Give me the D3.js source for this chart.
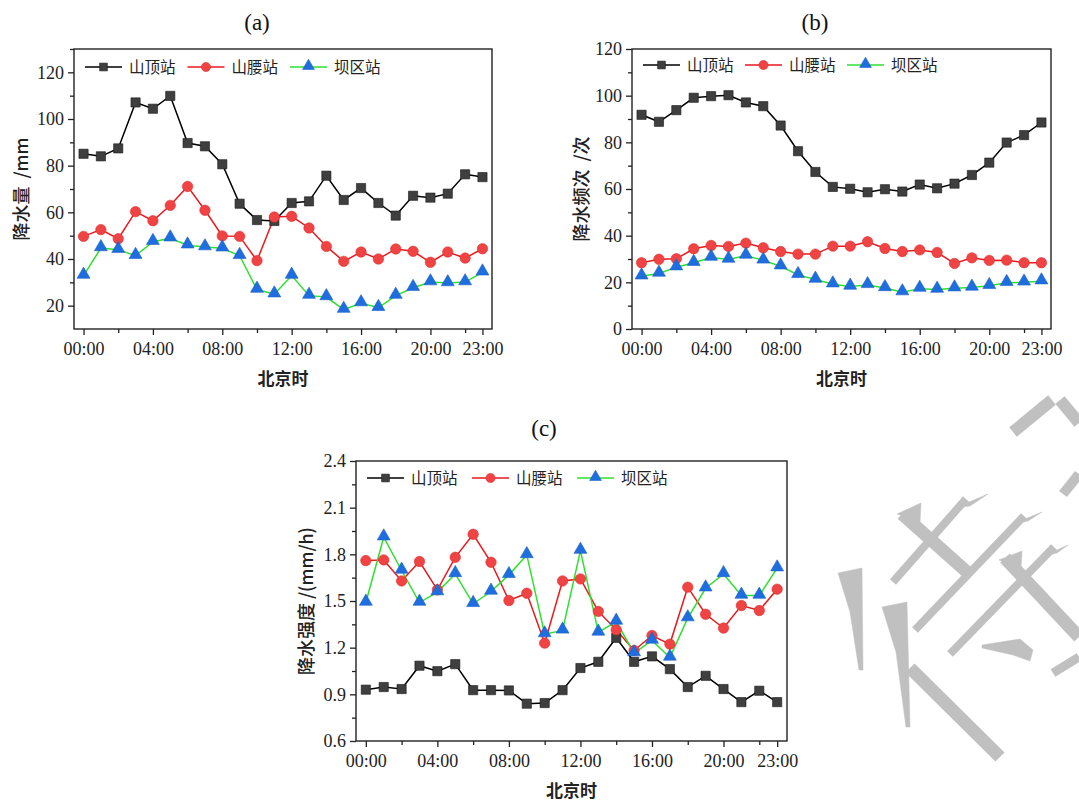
<!DOCTYPE html>
<html>
<head>
<meta charset="utf-8">
<script src="https://cdn.jsdelivr.net/npm/d3@7"></script>
<style>
  body { margin: 0; background: #fff; }
  svg { display: block; }
</style>
</head>
<body>
<svg id="svg" width="1079" height="802"></svg>
<script>
// categories
let hours = [0, 1, 2, 3, 4, 5, 6, 7, 8, 9, 10, 11, 12, 13, 14, 15, 16, 17, 18, 19, 20, 21, 22, 23];
let xMajor = [0, 4, 8, 12, 16, 20, 23];
let xMinor = [2, 6, 10, 14, 18, 22];
let stations = ["山顶站", "山腰站", "坝区站"];

// (a) 降水量 /mm
let amountTop = [85.1, 84.0, 87.4, 107.1, 104.4, 109.9, 89.7, 88.3, 80.6, 63.7, 56.7, 56.3, 64.0, 64.7, 75.7, 65.3, 70.4, 64.0, 58.6, 67.1, 66.3, 68.0, 76.3, 75.1];
let amountMid = [49.7, 52.6, 48.7, 60.3, 56.4, 63.0, 71.1, 60.9, 49.9, 49.7, 39.3, 58.0, 58.3, 53.3, 45.4, 39.0, 43.0, 40.0, 44.3, 43.3, 38.6, 43.0, 40.4, 44.4];
let amountDam = [32.9, 44.7, 44.0, 41.4, 47.4, 48.9, 45.9, 45.1, 44.6, 41.4, 26.9, 24.9, 32.9, 24.3, 23.7, 18.3, 21.1, 19.1, 24.3, 27.7, 30.1, 29.7, 30.1, 34.3];

// (b) 降水频次 /次
let freqTop = [91.8, 88.8, 93.8, 99.1, 99.8, 100.2, 97.1, 95.5, 87.2, 76.2, 67.3, 60.9, 60.1, 58.6, 59.9, 58.9, 61.9, 60.3, 62.3, 66.0, 71.3, 79.9, 83.1, 88.5];
let freqMid = [28.4, 29.9, 30.1, 34.4, 35.8, 35.4, 36.8, 34.8, 33.2, 32.1, 32.1, 35.5, 35.5, 37.4, 34.5, 33.2, 33.9, 32.8, 28.1, 30.5, 29.4, 29.5, 28.4, 28.4];
let freqDam = [22.6, 23.8, 26.5, 28.4, 30.6, 29.8, 31.5, 29.4, 26.9, 23.2, 21.2, 19.2, 18.2, 18.9, 17.6, 15.8, 17.3, 16.9, 17.5, 17.8, 18.5, 19.8, 20.0, 20.5];

// (c) 降水强度 /(mm/h)
let intenTop = [0.930, 0.947, 0.934, 1.084, 1.049, 1.094, 0.927, 0.927, 0.925, 0.840, 0.844, 0.927, 1.069, 1.109, 1.263, 1.109, 1.144, 1.062, 0.947, 1.019, 0.934, 0.850, 0.923, 0.850];
let intenMid = [1.760, 1.764, 1.629, 1.754, 1.572, 1.781, 1.929, 1.749, 1.503, 1.550, 1.229, 1.629, 1.642, 1.433, 1.315, 1.182, 1.278, 1.223, 1.589, 1.415, 1.326, 1.471, 1.439, 1.576];
let intenDam = [1.490, 1.910, 1.696, 1.490, 1.557, 1.674, 1.482, 1.561, 1.668, 1.796, 1.287, 1.311, 1.824, 1.298, 1.368, 1.165, 1.246, 1.137, 1.390, 1.582, 1.674, 1.535, 1.535, 1.711];

// y ticks
let amountTicks = [20, 40, 60, 80, 100, 120];
let freqTicks = [0, 20, 40, 60, 80, 100, 120];
let intenTicks = [0.6, 0.9, 1.2, 1.5, 1.8, 2.1, 2.4];

// styles per station
let lineColors = ["#000000", "#e8191e", "#2ee02e"];
let markColors = ["#3f3f3f", "#f04444", "#1f6ee0"];
let markStroke = ["#1a1a1a", "#e02a2a", "#1a5fc8"];
let symbols = [d3.symbolSquare, d3.symbolCircle, d3.symbolTriangle];

let serif = "'Liberation Serif', 'Times New Roman', serif";
let cjk = "'Noto Sans CJK SC', sans-serif";

let svg = d3.select("#svg");

// gray watermark glyph pieces in the lower right corner (decoration, not data)
let wmLines = [
  [1013, 432, 1052, 400, 12], [1060, 400, 1079, 423, 12], [1063, 494, 1079, 474, 10],
  [902, 514, 967, 572, 13], [966, 499, 893, 582, 8], [1024, 516, 915, 630, 8],
  [1005, 558, 1079, 637, 13], [1054, 547, 950, 654, 8], [1053, 673, 1079, 657, 9],
  [910, 668, 1000, 757, 13]
];
let wmShapes = [
  [[838, 573], [862, 568], [863, 670], [859, 670], [850, 612]],
  [[882, 607], [907, 602], [910, 727], [906, 727], [896, 652]],
  [[982, 645], [1020, 639], [1033, 650], [1030, 661], [1013, 655], [982, 648]],
  [[897, 514], [921, 503], [920, 522]],
  [[955, 508], [988, 494], [970, 506]],
  [[1013, 524], [1042, 512], [1028, 521]],
  [[999, 560], [1022, 551], [1021, 568]],
  [[1044, 556], [1068, 545], [1057, 553]]
];

let wm = svg.append("g").attr("fill", "#c0c0c0").attr("stroke", "#c0c0c0");
wmLines.forEach(function (s) {
  wm.append("line").attr("x1", s[0]).attr("y1", s[1]).attr("x2", s[2]).attr("y2", s[3])
      .attr("stroke-width", s[4]);
});
wmShapes.forEach(function (s) {
  wm.append("path").attr("d", d3.line()(s) + "Z").attr("stroke-width", 0.5);
});

function pad2(h) { return (h < 10 ? "0" : "") + h + ":00"; }

function drawPanel(p) {
  let g = svg.append("g");

  let x = d3.scaleLinear().domain([-0.55, 23.55]).range([p.left, p.right]);
  let y = d3.scaleLinear().domain(p.yDomain).range([p.bottom, p.top]);

  // minor ticks halfway between majors
  let step = p.yTicks[1] - p.yTicks[0];
  let yMinor = [];
  for (let i = 0; i < p.yTicks.length - 1; i++) yMinor.push((p.yTicks[i] + p.yTicks[i + 1]) / 2);
  if (p.yTicks[p.yTicks.length - 1] < p.yDomain[1]) yMinor.push(p.yTicks[p.yTicks.length - 1] + step / 2);

  let xAxis = d3.axisBottom(x).tickValues(xMajor).tickSize(6).tickSizeOuter(0).tickPadding(7).tickFormat(pad2);
  let xAxisMinor = d3.axisBottom(x).tickValues(xMinor).tickSize(4).tickSizeOuter(0).tickFormat("");
  let yAxis = d3.axisLeft(y).tickValues(p.yTicks).tickSize(6).tickSizeOuter(0).tickPadding(4).tickFormat(p.fmt);
  let yAxisMinor = d3.axisLeft(y).tickValues(yMinor).tickSize(4).tickSizeOuter(0).tickFormat("");

  let gx = g.append("g").attr("transform", "translate(0," + p.bottom + ")").call(xAxis);
  let gxm = g.append("g").attr("transform", "translate(0," + p.bottom + ")").call(xAxisMinor);
  let gy = g.append("g").attr("transform", "translate(" + p.left + ",0)").call(yAxis);
  let gym = g.append("g").attr("transform", "translate(" + p.left + ",0)").call(yAxisMinor);

  [gx, gxm, gy, gym].forEach(function (a) {
    a.select(".domain").remove();
    a.selectAll("line").attr("stroke", "#222").attr("stroke-width", 1.3);
    a.selectAll("text").style("font-family", serif).style("font-size", "18px").attr("fill", "#222");
  });

  // frame
  g.append("rect")
      .attr("x", p.left).attr("y", p.top)
      .attr("width", p.right - p.left).attr("height", p.bottom - p.top)
      .attr("fill", "none").attr("stroke", "#222").attr("stroke-width", 1.4);

  // series
  let line = d3.line()
      .x(function (d, i) { return x(hours[i]); })
      .y(function (d) { return y(d); });

  p.series.forEach(function (s, k) {
    g.append("path")
        .datum(s)
        .attr("fill", "none")
        .attr("stroke", lineColors[k])
        .attr("stroke-width", 1.5)
        .attr("d", line);
  });

  p.series.forEach(function (s, k) {
    let sym = d3.symbol().type(symbols[k]).size([85, 85, 72][k]);
    g.selectAll(null)
        .data(s)
        .enter().append("path")
        .attr("transform", function (d, i) {
          let dy = k == 2 ? -1 : 0;
          return "translate(" + x(hours[i]) + "," + (y(d) + dy) + ")";
        })
        .attr("d", sym)
        .attr("fill", markColors[k])
        .attr("stroke", markStroke[k])
        .attr("stroke-width", 0.6);
  });

  // legend
  let leg = g.append("g").attr("transform", "translate(" + (p.left + 11) + "," + (p.top + p.legendY) + ")");
  stations.forEach(function (name, k) {
    let item = leg.append("g").attr("transform", "translate(" + k * p.legendStep + ",0)");
    item.append("line").attr("x1", 0).attr("x2", 37).attr("y1", 0).attr("y2", 0)
        .attr("stroke", lineColors[k]).attr("stroke-width", 1.5);
    let sym = d3.symbol().type(symbols[k]).size([60, 65, 60][k]);
    item.append("path").attr("transform", "translate(18.5," + (k == 2 ? -1 : 0) + ")").attr("d", sym)
        .attr("fill", markColors[k]).attr("stroke", markStroke[k]).attr("stroke-width", 0.6);
    item.append("text").attr("x", 44).attr("y", 0).attr("dy", "0.36em")
        .style("font-family", cjk).style("font-size", "15.5px").attr("fill", "#222")
        .text(name);
  });

  // panel title
  svg.append("text").attr("x", p.titleX).attr("y", p.titleY).attr("text-anchor", "middle")
      .attr("dy", "0.35em")
      .style("font-family", serif).style("font-size", "23px").attr("fill", "#111")
      .text(p.title);

  // axis titles
  svg.append("text").attr("x", (p.left + p.right) / 2 + p.xLabelShift).attr("y", p.bottom + 50)
      .attr("text-anchor", "middle").attr("dy", "0.35em")
      .style("font-family", cjk).style("font-size", "17px").style("font-weight", 700).attr("fill", "#222")
      .text("北京时");

  svg.append("text")
      .attr("transform", "translate(" + p.yLabelX + "," + ((p.top + p.bottom) / 2 + p.yLabelShift) + ") rotate(-90)")
      .attr("text-anchor", "middle").attr("dy", "0.35em")
      .style("font-family", cjk).style("font-size", "18px").style("font-weight", 500).attr("fill", "#222")
      .style("white-space", "pre")
      .text(p.yLabel);
}

drawPanel({
  left: 74, right: 492, top: 49, bottom: 329,
  yDomain: [10, 130], yTicks: amountTicks, fmt: d3.format("d"),
  series: [amountTop, amountMid, amountDam],
  legendY: 18, legendStep: 102.5,
  title: "(a)", titleX: 257, titleY: 22,
  yLabel: "降水量  /mm", yLabelX: 22, yLabelShift: 0, xLabelShift: 0
});

drawPanel({
  left: 632, right: 1051, top: 49, bottom: 329,
  yDomain: [0, 120], yTicks: freqTicks, fmt: d3.format("d"),
  series: [freqTop, freqMid, freqDam],
  legendY: 16, legendStep: 102,
  title: "(b)", titleX: 815, titleY: 22,
  yLabel: "降水频次  /次", yLabelX: 582, yLabelShift: 0, xLabelShift: 0
});

drawPanel({
  left: 356, right: 787, top: 461, bottom: 741,
  yDomain: [0.6, 2.4], yTicks: intenTicks, fmt: d3.format(".1f"),
  series: [intenTop, intenMid, intenDam],
  legendY: 17, legendStep: 105,
  title: "(c)", titleX: 544, titleY: 428,
  yLabel: "降水强度 /(mm/h)", yLabelX: 307, yLabelShift: 0, xLabelShift: 0
});
</script>
</body>
</html>
